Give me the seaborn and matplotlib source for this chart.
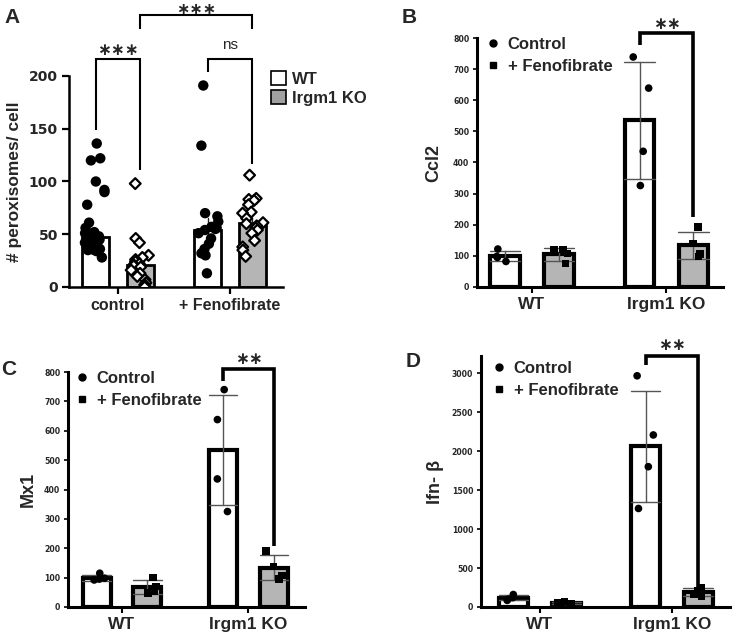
import numpy as np
import pandas as pd
import matplotlib
matplotlib.use("Agg")
import matplotlib.pyplot as plt
import seaborn as sns
from matplotlib.lines import Line2D
from matplotlib.patches import Patch

sns.set_theme(style="ticks")
plt.rcParams["font.family"] = ["Liberation Sans", "DejaVu Sans"]
plt.rcParams["font.weight"] = "bold"
np.random.seed(3)

# ---------------- data ----------------
# Panel A
a_treatments = ["control", "+ Fenofibrate"]
a_genotypes = ["WT", "Irgm1 KO"]
a_wt_control = [136, 122, 120, 100, 92, 90, 78, 61, 56, 52, 51, 50, 48, 47, 45,
                43, 42, 40, 40, 38, 37, 36, 35, 35, 34, 28]
a_ko_control = [98, 46, 42, 30, 28, 26, 24, 22, 21, 20, 19, 16, 13, 10, 7, 4, 2, 0]
a_wt_feno = [191, 134, 70, 67, 62, 57, 56, 55, 54, 51, 46, 41, 36, 32, 30, 13]
a_ko_feno = [106, 84, 83, 82, 78, 71, 70, 65, 61, 60, 58, 56, 54, 51, 44, 38, 35, 29]

# Panels B-D
genotypes = ["WT", "Irgm1 KO"]
treatments = ["Control", "+ Fenofibrate"]
ccl2 = {("WT", "Control"): [122, 98, 95, 82],
        ("WT", "+ Fenofibrate"): [120, 118, 108, 75],
        ("Irgm1 KO", "Control"): [739, 639, 436, 326],
        ("Irgm1 KO", "+ Fenofibrate"): [193, 140, 107, 98]}
mx1 = {("WT", "Control"): [115, 98, 95, 92],
       ("WT", "+ Fenofibrate"): [101, 70, 55, 48],
       ("Irgm1 KO", "Control"): [740, 638, 436, 325],
       ("Irgm1 KO", "+ Fenofibrate"): [191, 138, 107, 96]}
ifnb = {("WT", "Control"): [160, 120, 100, 85],
        ("WT", "+ Fenofibrate"): [70, 55, 45, 35],
        ("Irgm1 KO", "Control"): [2966, 2207, 1800, 1264],
        ("Irgm1 KO", "+ Fenofibrate"): [250, 210, 170, 140]}

W, H = 733, 637
fig = plt.figure(figsize=(W / 100, H / 100), dpi=100)


def px_axes(x0, x1, ytop, ybot):
    return fig.add_axes([x0 / W, 1 - ybot / H, (x1 - x0) / W, (ybot - ytop) / H])


GREY = "#b5b5b5"
NUMFONT = ["DejaVu Sans"]

# ---------------- Panel A ----------------
rows = []
for t, wt, ko in [(a_treatments[0], a_wt_control, a_ko_control),
                  (a_treatments[1], a_wt_feno, a_ko_feno)]:
    rows += [(t, "WT", v) for v in wt]
    rows += [(t, "Irgm1 KO", v) for v in ko]
dfA = pd.DataFrame(rows, columns=["treatment", "genotype", "value"])

axA = px_axes(69, 283, 76, 287)
sns.barplot(data=dfA, x="treatment", y="value", hue="genotype",
            order=a_treatments, hue_order=a_genotypes, estimator="median",
            errorbar="se", palette={"WT": "white", "Irgm1 KO": GREY},
            saturation=1, edgecolor="black", linewidth=2.0, width=0.8, gap=0.4,
            err_kws={"color": "#222222", "linewidth": 1.0}, legend=False, ax=axA)
sns.stripplot(data=dfA[dfA.genotype == "WT"], x="treatment", y="value",
              hue="genotype", order=a_treatments, hue_order=a_genotypes,
              dodge=True, jitter=0.2, marker="o", size=7.5,
              palette={"WT": "black", "Irgm1 KO": "black"}, linewidth=0,
              legend=False, ax=axA)
sns.stripplot(data=dfA[dfA.genotype == "Irgm1 KO"], x="treatment", y="value",
              hue="genotype", order=a_treatments, hue_order=a_genotypes,
              dodge=True, jitter=0.2, marker="D", size=5.5,
              palette={"WT": "white", "Irgm1 KO": "white"}, edgecolor="black",
              linewidth=1.6, legend=False, ax=axA)
axA.set_xlim(-0.4375, 1.473)
axA.set_ylim(0, 200)
axA.set_yticks([0, 50, 100, 150, 200])
axA.set_xlabel("")
axA.set_ylabel("# peroxisomes/ cell", fontsize=12.5, fontweight="bold", labelpad=5)
for lab in axA.get_yticklabels():
    lab.set_fontfamily(NUMFONT)
    lab.set_fontsize(10)
    lab.set_fontweight("bold")
for lab in axA.get_xticklabels():
    lab.set_fontsize(11.5)
    lab.set_fontweight("bold")
axA.tick_params(axis="both", width=1.6, length=5, color="black", pad=3)
sns.despine(ax=axA)
for s in ["left", "bottom"]:
    axA.spines[s].set_linewidth(1.8)
    axA.spines[s].set_color("black")


def bracket(ax, x1, x2, ytop, y1, y2, text, ty, lw, fs, ns=False):
    ax.plot([x1, x1, x2, x2], [y1, ytop, ytop, y2], color="black", lw=lw,
            clip_on=False, solid_capstyle="butt", solid_joinstyle="miter")
    ax.text((x1 + x2) / 2, ty, text, ha="center", va="center", fontsize=fs,
            fontweight="normal" if ns else "bold", clip_on=False)


bracket(axA, -0.2, 0.2, 216, 149, 111, "∗∗∗", 224, 1.5, 12)
bracket(axA, 0.8, 1.2, 216, 204, 117, "ns", 229, 1.5, 11, ns=True)
bracket(axA, 0.2, 1.2, 258, 245, 245, "∗∗∗", 263, 1.5, 11.5)

legA = [Patch(facecolor="white", edgecolor="black", linewidth=1.2, label="WT"),
        Patch(facecolor="#a0a0a0", edgecolor="black", linewidth=1.2, label="Irgm1 KO")]
fig.legend(handles=legA, loc="upper left", bbox_to_anchor=(263 / W, 1 - 63 / H),
           frameon=False, prop={"size": 12, "weight": "bold"}, handlelength=0.9,
           handleheight=0.9, handletextpad=0.35, labelspacing=0.2, borderpad=0)

# ---------------- Panels B-D ----------------
def to_df(d):
    rows = []
    for (g, t), vals in d.items():
        rows += [(g, t, v) for v in vals]
    return pd.DataFrame(rows, columns=["genotype", "treatment", "value"])


def small_panel(box, d, ylim, yticks, ylabel, lpad, brk, legpos):
    x0, x1, ytop, ybot, xlim = box
    ax = px_axes(x0, x1, ytop, ybot)
    df = to_df(d)
    sns.barplot(data=df, x="genotype", y="value", hue="treatment",
                order=genotypes, hue_order=treatments, errorbar="sd",
                palette={"Control": "white", "+ Fenofibrate": GREY},
                saturation=1, edgecolor="black", linewidth=3.0, width=0.8,
                gap=0.45, capsize=0.45,
                err_kws={"color": "#555555", "linewidth": 1.0}, legend=False, ax=ax)
    sns.stripplot(data=df[df.treatment == "Control"], x="genotype", y="value",
                  hue="treatment", order=genotypes, hue_order=treatments,
                  dodge=True, jitter=0.15, marker="o", size=5.5,
                  palette={"Control": "black", "+ Fenofibrate": "black"},
                  linewidth=0, legend=False, ax=ax)
    sns.stripplot(data=df[df.treatment == "+ Fenofibrate"], x="genotype", y="value",
                  hue="treatment", order=genotypes, hue_order=treatments,
                  dodge=True, jitter=0.15, marker="s", size=5.5,
                  palette={"Control": "black", "+ Fenofibrate": "black"},
                  linewidth=0, legend=False, ax=ax)
    ax.set_xlim(*xlim)
    ax.set_ylim(*ylim)
    ax.set_yticks(yticks)
    ax.set_xlabel("")
    ax.set_ylabel(ylabel, fontsize=13, fontweight="bold", labelpad=lpad)
    for lab in ax.get_yticklabels():
        lab.set_fontfamily(NUMFONT)
        lab.set_fontsize(5.6)
        lab.set_fontweight("bold")
    for lab in ax.get_xticklabels():
        lab.set_fontsize(12.5)
        lab.set_fontweight("bold")
    ax.tick_params(axis="y", width=1.2, length=3, color="black", pad=2.5)
    ax.tick_params(axis="x", width=1.5, length=4, color="black", pad=3)
    sns.despine(ax=ax)
    for s in ["left", "bottom"]:
        ax.spines[s].set_linewidth(2.2)
        ax.spines[s].set_color("black")
    ytop_b, yl, yr, ty = brk
    bracket(ax, 0.8, 1.2, ytop_b, yl, yr, "∗∗", ty, 2.6, 12)
    handles = [Line2D([], [], marker="o", color="black", linestyle="none",
                      markersize=5, label="Control"),
               Line2D([], [], marker="s", color="black", linestyle="none",
                      markersize=5, label="+ Fenofibrate")]
    ax.legend(handles=handles, loc="upper left",
              bbox_to_anchor=(legpos[0] / W, 1 - legpos[1] / H),
              bbox_transform=fig.transFigure, frameon=False,
              prop={"size": 12, "weight": "bold"}, handlelength=0.8,
              handletextpad=0.5, labelspacing=0.4, borderpad=0, borderaxespad=0)
    return ax


small_panel((477, 723, 38, 287, (-0.407, 1.42)), ccl2, (0, 800),
            [0, 100, 200, 300, 400, 500, 600, 700, 800], "Ccl2", 8,
            (817, 777, 225, 842), (486, 37))
small_panel((68, 305, 372, 607, (-0.427, 1.447)), mx1, (0, 800),
            [0, 100, 200, 300, 400, 500, 600, 700, 800], "Mx1", 5,
            (811, 768, 206, 841), (75, 371))
small_panel((481, 730, 356, 607, (-0.447, 1.44)), ifnb, (0, 3220),
            [0, 500, 1000, 1500, 2000, 2500, 3000], "Ifn- β", 6,
            (3220, 3107, 257, 3359), (492, 361))

# panel letters
for letter, x, y in [("A", 4, 8), ("B", 402, 8), ("C", 1, 360), ("D", 406, 352)]:
    fig.text(x / W, 1 - y / H, letter, fontsize=15, fontweight="bold",
             ha="left", va="top")

fig.savefig("out.png", dpi=100)
